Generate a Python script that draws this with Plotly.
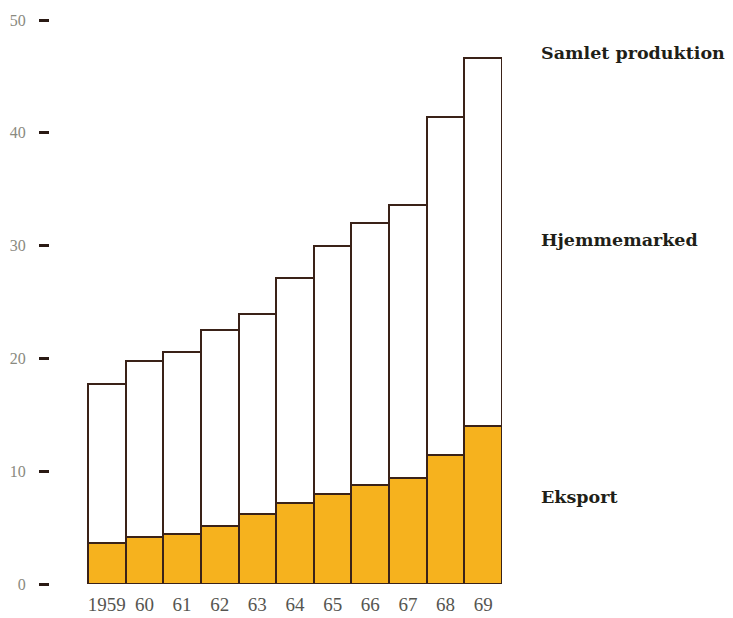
import plotly.graph_objects as go

years = ["1959", "60", "61", "62", "63", "64", "65", "66", "67", "68", "69"]
total = [17.7, 19.8, 20.6, 22.5, 23.9, 27.1, 30.0, 32.0, 33.6, 41.4, 46.6]
eksport = [3.6, 4.2, 4.4, 5.1, 6.2, 7.2, 8.0, 8.8, 9.4, 11.4, 14.0]
hjemme = [round(t - e, 2) for t, e in zip(total, eksport)]
y_ticks = [0, 10, 20, 30, 40, 50]
labels = ["Samlet produktion", "Hjemmemarked", "Eksport"]
label_y = [47.1, 30.5, 7.7]

xs = list(range(len(years)))
edge = "#3a2218"
serif = "Liberation Serif, DejaVu Serif, serif"
bold_serif = "DejaVu Serif, Liberation Serif, serif"

fig = go.Figure()
fig.add_trace(go.Bar(x=xs, y=eksport, width=1.0, name="Eksport",
                     marker=dict(color="#F6B21E", line=dict(color=edge, width=2))))
fig.add_trace(go.Bar(x=xs, y=hjemme, width=1.0, name="Hjemmemarked",
                     marker=dict(color="#FFFFFF", line=dict(color=edge, width=2))))

for txt, yv in zip(labels, label_y):
    fig.add_annotation(x=1.082, xref="paper", y=yv, yref="y", text="<b>" + txt + "</b>",
                       showarrow=False, xanchor="left", yanchor="middle",
                       font=dict(family=bold_serif, size=17.5, color="#1f1f18"))

fig.update_layout(
    barmode="stack", bargap=0,
    width=733, height=618,
    margin=dict(l=50, r=231, t=20, b=34, autoexpand=False),
    paper_bgcolor="white", plot_bgcolor="white",
    showlegend=False,
    xaxis=dict(range=[-1.51, 10.5], tickmode="array", tickvals=xs, ticktext=years,
               showgrid=False, zeroline=False, showline=False, ticks="",
               automargin=False, ticklabelstandoff=7,
               tickfont=dict(family=serif, size=19, color="#555550")),
    yaxis=dict(range=[0, 50], tickmode="array", tickvals=y_ticks,
               ticktext=[str(v) for v in y_ticks],
               showgrid=False, zeroline=False, showline=False,
               ticks="outside", ticklen=10, tickwidth=3, tickcolor="#2a1a14",
               automargin=False, ticklabelstandoff=10,
               tickfont=dict(family=serif, size=16, color="#8a8a80")),
)

fig.write_html("out.html", config={"displayModeBar": False},
               post_script="document.body.style.margin='0';document.body.style.overflow='hidden';")
